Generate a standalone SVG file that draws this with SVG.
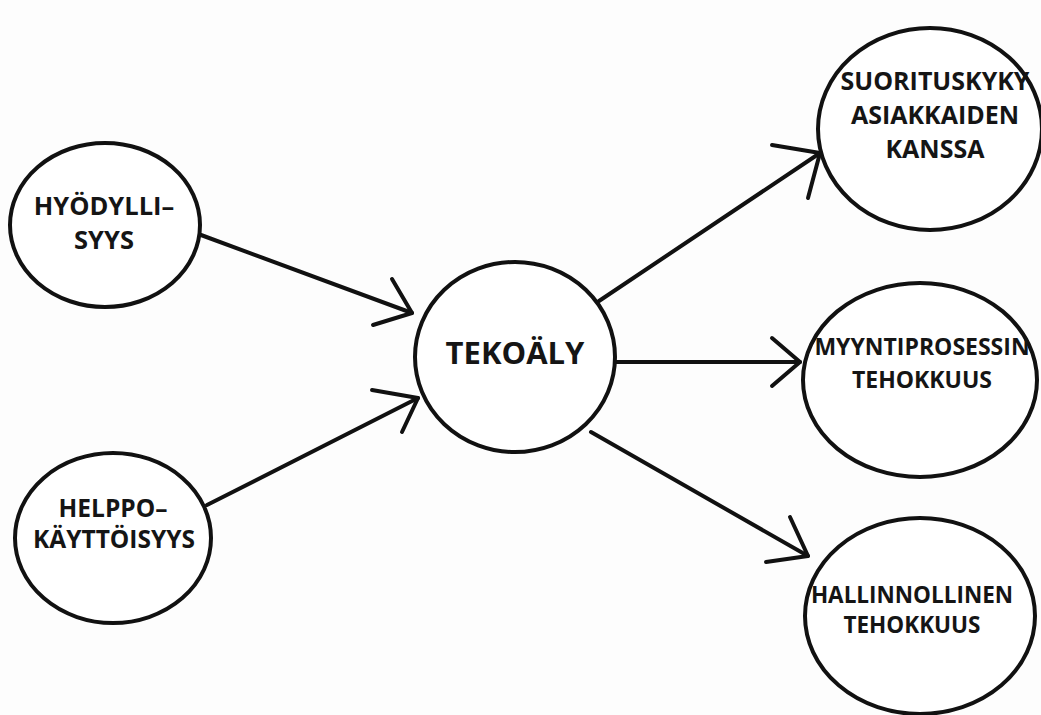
<svg xmlns="http://www.w3.org/2000/svg" width="1041" height="715" viewBox="0 0 1041 715">
  <style>
    .node { fill: #ffffff; stroke: #111111; stroke-width: 4; }
    .label { font-family: "Open Sans", "Noto Sans", "Liberation Sans", sans-serif; font-weight: 700; fill: #151515; text-anchor: middle; }
    .edge { fill: none; stroke: #111111; stroke-width: 4; stroke-linecap: round; stroke-linejoin: round; }
  </style>
  <rect width="1041" height="715" fill="#fdfdfd"/>

  <!-- connectors: lines plus open chevron heads -->
  <g id="connectors">
    <path class="edge" d="M201 235 L412 313"/>
    <path class="edge" d="M392 279 L412 313 L373 325"/>

    <path class="edge" d="M207 505 L418 398"/>
    <path class="edge" d="M372 390 L418 398 L402 432"/>

    <path class="edge" d="M599 301 L820 153"/>
    <path class="edge" d="M772 145 L820 153 L808 198"/>

    <path class="edge" d="M615 362 L800 362"/>
    <path class="edge" d="M772 338 L800 362 L772 386"/>

    <path class="edge" d="M591 432 L808 556"/>
    <path class="edge" d="M790 517 L808 556 L766 562"/>
  </g>

  <g id="node-hyodyllisyys">
    <ellipse class="node" cx="105" cy="225" rx="95" ry="82"/>
    <text class="label" font-size="25.5" x="104" y="215">HYÖDYLLI–</text>
    <text class="label" font-size="25.5" x="104" y="249">SYYS</text>
  </g>

  <g id="node-helppokayttoisyys">
    <ellipse class="node" cx="113" cy="538" rx="98" ry="85"/>
    <text class="label" font-size="24.5" x="113" y="517">HELPPO–</text>
    <text class="label" font-size="24.5" x="114" y="548">KÄYTTÖISYYS</text>
  </g>

  <g id="node-tekoaly">
    <ellipse class="node" cx="515" cy="357" rx="100" ry="95"/>
    <text class="label" font-size="31" x="515" y="364">TEKOÄLY</text>
  </g>

  <g id="node-suorituskyky">
    <ellipse class="node" cx="930" cy="129" rx="112" ry="101"/>
    <text class="label" font-size="25" x="935" y="90">SUORITUSKYKY</text>
    <text class="label" font-size="25" x="935" y="124">ASIAKKAIDEN</text>
    <text class="label" font-size="25" x="935" y="158">KANSSA</text>
  </g>

  <g id="node-myyntiprosessi">
    <ellipse class="node" cx="920" cy="380" rx="117" ry="97"/>
    <text class="label" font-size="23" x="922" y="355">MYYNTIPROSESSIN</text>
    <text class="label" font-size="23" x="922" y="388">TEHOKKUUS</text>
  </g>

  <g id="node-hallinnollinen">
    <ellipse class="node" cx="920" cy="616" rx="115" ry="98"/>
    <text class="label" font-size="22.5" x="912" y="603">HALLINNOLLINEN</text>
    <text class="label" font-size="22.5" x="912" y="633">TEHOKKUUS</text>
  </g>
</svg>
